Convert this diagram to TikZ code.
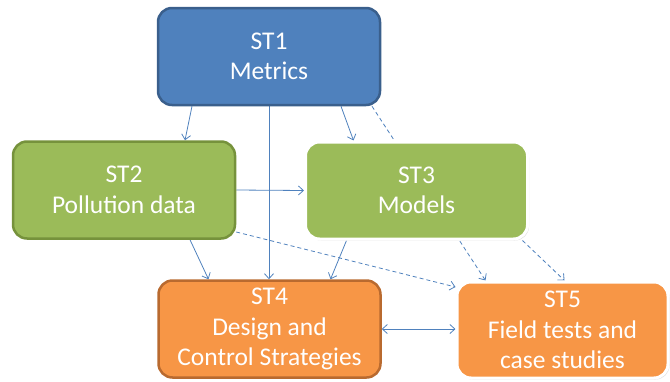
\documentclass[tikz,border=0pt]{standalone}
\usepackage{fontspec}
\setmainfont{Carlito}
\usetikzlibrary{arrows.meta, shadows, backgrounds}
\definecolor{stblue}{HTML}{4F81BD}
\definecolor{stblueline}{HTML}{3A5F8C}
\definecolor{stgreen}{HTML}{9BBB59}
\definecolor{stgreenline}{HTML}{76923C}
\definecolor{storange}{HTML}{F79646}
\definecolor{storangeline}{HTML}{B96A2F}
\definecolor{link}{HTML}{4F81BD}
\tikzset{
    stbox/.style={rounded corners=14pt, line width=2.5pt, text=white, align=center,
        minimum width=222pt, minimum height=97pt, inner sep=0pt,
        font=\fontsize{25.5}{30.5}\selectfont},
    stlight/.style={stbox, draw=white, line width=3pt,
        drop shadow={opacity=0.25, shadow xshift=1.5pt, shadow yshift=-1.5pt}},
    barb/.tip={Straight Barb[length=5pt, width=9pt]},
    link/.style={draw=link, line width=0.8pt, -barb},
    linkdash/.style={link, dash pattern=on 4pt off 3pt}
}
\begin{document}
\begin{tikzpicture}[x=1pt, y=-1pt]
    \useasboundingbox (0,0) rectangle (670,381);
    \node [stbox, fill=stblue, draw=stblueline] (st1) at (269,56.5) {ST1\\Metrics};
    \node [stbox, fill=stgreen, draw=stgreenline] (st2) at (124,190) {ST2\\Pollution data};
    \node [stlight, fill=stgreen] (st3) at (416.5,190.5) {ST3\\Models};
    \node [stbox, fill=storange, draw=storangeline] (st4) at (269.5,329) {ST4\\Design and\\Control Strategies};
    \node [stlight, fill=storange, minimum width=211pt, minimum height=96pt] (st5) at (562.5,330) {ST5\\Field tests and\\case studies};
    \begin{scope}[on background layer]
    \draw [link] ([xshift=-77pt]st1.south) -- ([xshift=61pt]st2.north);
    \draw [link] (st1.south) -- (st1.south |- st4.north);
    \draw [link] ([xshift=72pt]st1.south) -- ([xshift=-63pt]st3.north);
    \draw [linkdash] ([xshift=103pt]st1.south) -- ([xshift=-77pt]st5.north);
    \draw [link] (st2.east) -- (st3.west);
    \draw [link] ([xshift=66pt]st2.south) -- ([xshift=-61pt]st4.north);
    \draw [linkdash] ([yshift=-42pt]st2.east) -- ([yshift=43pt]st5.west);
    \draw [link] ([xshift=-70pt]st3.south) -- ([xshift=61pt]st4.north);
    \draw [linkdash] ([xshift=106pt]st3.south) -- ([xshift=2pt]st5.north);
    \draw [link, barb-barb] (st4.east) -- (st4.east -| st5.west);
    \end{scope}
\end{tikzpicture}
\end{document}
